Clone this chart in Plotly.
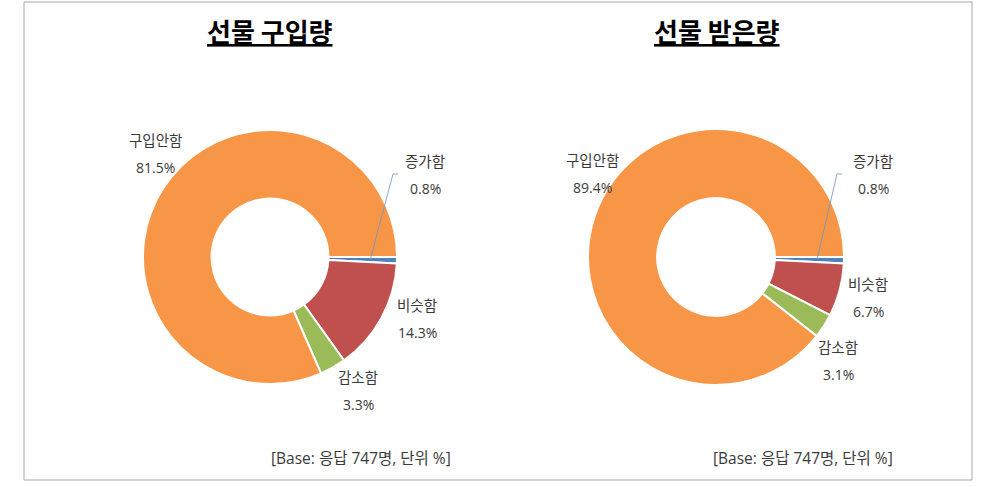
import math
import plotly.graph_objects as go

# ---------------- data ----------------
categories = ["증가함", "비슷함", "감소함", "구입안함"]
purchase_values = [0.8, 14.3, 3.3, 81.5]
received_values = [0.8, 6.7, 3.1, 89.4]
titles = ["선물 구입량", "선물 받은량"]
footnote = "[Base: 응답 747명, 단위 %]"
colors = ["#4F81BD", "#C0504D", "#9BBB59", "#F79646"]

# ---------------- layout (pixels) ----------------
W, H = 1004, 487
FONT = "Open Sans, Noto Sans CJK KR"
TFONT = "Noto Sans CJK KR"
TXT = "#3A3A3A"


def fx(x):
    return x / W


def fy(y):
    return 1 - y / H


charts = [
    dict(values=purchase_values, title=titles[0], cx=270, cy=257, r=127,
         title_x=270, foot_x=361,
         labels=[(425, 162), (417, 305), (358, 377), (155, 140)],
         kink=[(398, 174), (393, 174)]),
    dict(values=received_values, title=titles[1], cx=716, cy=257, r=128,
         title_x=717, foot_x=803,
         labels=[(873, 162), (868, 284), (838, 347), (592, 160)],
         kink=[(842, 174), (837, 174)]),
]
LINE_GAP = 27

fig = go.Figure()
annotations = []
shapes = []

for ch in charts:
    cx, cy, r = ch["cx"], ch["cy"], ch["r"]
    fig.add_trace(go.Pie(
        labels=categories,
        values=ch["values"],
        hole=0.46,
        sort=False,
        direction="clockwise",
        rotation=90,
        marker=dict(colors=colors, line=dict(color="white", width=2)),
        textinfo="none",
        hoverinfo="label+percent",
        domain=dict(x=[fx(cx - r), fx(cx + r)], y=[fy(cy + r), fy(cy - r)]),
        showlegend=False,
    ))
    # title
    annotations.append(dict(
        x=fx(ch["title_x"]), y=fy(30), xref="paper", yref="paper",
        text="<b><u>" + ch["title"] + "</u></b>", showarrow=False,
        font=dict(family=TFONT, size=26, color="#000000"),
        xanchor="center", yanchor="middle"))
    # labels
    for cat, val, (lx, ly) in zip(categories, ch["values"], ch["labels"]):
        annotations.append(dict(
            x=fx(lx), y=fy(ly), xref="paper", yref="paper", text=cat,
            showarrow=False, font=dict(family=FONT, size=14.5, color=TXT),
            xanchor="center", yanchor="middle"))
        annotations.append(dict(
            x=fx(lx), y=fy(ly + LINE_GAP), xref="paper", yref="paper",
            text=f"{val:.1f}%",
            showarrow=False, font=dict(family=FONT, size=14, color=TXT),
            xanchor="center", yanchor="middle"))
    # leader line for smallest slice (first)
    total = sum(ch["values"])
    ang = math.radians(ch["values"][0] / total * 360 / 2)
    ex = cx + 0.79 * r * math.cos(ang)
    ey = cy + 0.79 * r * math.sin(ang)
    (k1x, k1y), (k2x, k2y) = ch["kink"]
    path = f"M {fx(k1x)} {fy(k1y)} L {fx(k2x)} {fy(k2y)} L {fx(ex)} {fy(ey)}"
    shapes.append(dict(type="path", xref="paper", yref="paper", path=path,
                       line=dict(color="rgba(120,150,190,0.85)", width=1)))
    # footnote
    annotations.append(dict(
        x=fx(ch["foot_x"]), y=fy(458), xref="paper", yref="paper",
        text=footnote, showarrow=False,
        font=dict(family=FONT, size=15.5, color=TXT),
        xanchor="center", yanchor="middle"))

# outer frame
shapes.append(dict(type="rect", xref="paper", yref="paper",
                   x0=fx(24), x1=fx(972), y0=fy(480), y1=fy(2),
                   line=dict(color="#A6A6A6", width=1), fillcolor="rgba(0,0,0,0)",
                   layer="below"))

fig.update_layout(
    width=W, height=H,
    margin=dict(l=0, r=0, t=0, b=0),
    paper_bgcolor="white", plot_bgcolor="white",
    annotations=annotations, shapes=shapes,
    font=dict(family=FONT),
)

fig.write_html("out.html")
